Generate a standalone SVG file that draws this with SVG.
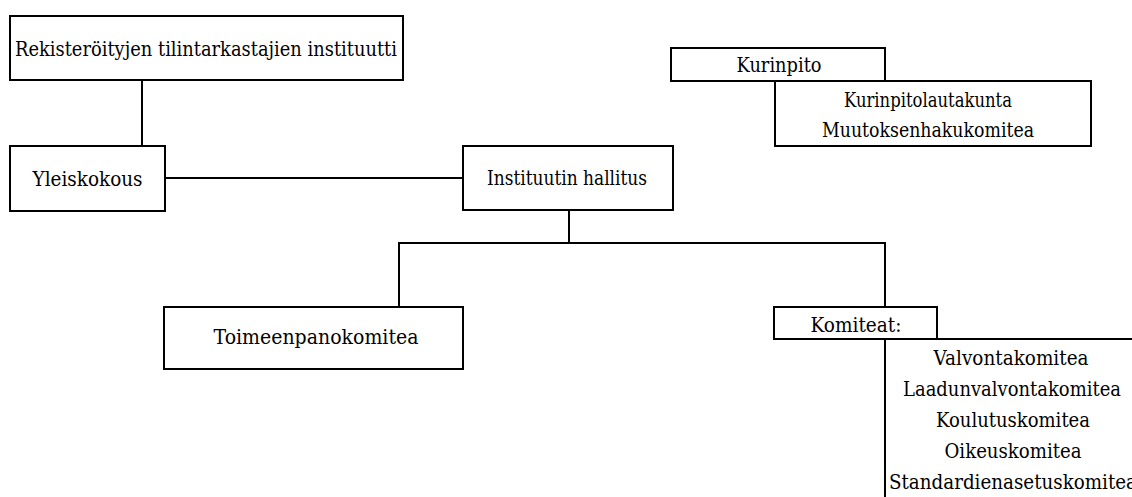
<svg xmlns="http://www.w3.org/2000/svg" width="1132" height="497" viewBox="0 0 1132 497">
<style>
.box{fill:#fff;stroke:#000;stroke-width:2}
.ln{fill:none;stroke:#000;stroke-width:2}
.t{font-family:"DejaVu Serif","Liberation Serif","Noto Serif",serif;font-size:20px;fill:#000}
.c{text-anchor:middle}
</style>
<rect width="1132" height="497" fill="#fff"/>
<g id="connectors">
<path class="ln" d="M142 80V146"/>
<path class="ln" d="M165 178H463"/>
<path class="ln" d="M569 210V243M399 307V243H885V307"/>
</g>
<g id="n-institute">
<rect class="box" x="10" y="16" width="393" height="64"/>
<text class="t c" x="206" y="56" textLength="382" lengthAdjust="spacingAndGlyphs">Rekisteröityjen tilintarkastajien instituutti</text>
</g>
<g id="n-yleiskokous">
<rect class="box" x="10" y="146" width="155" height="65"/>
<text class="t c" x="87.5" y="186" textLength="110" lengthAdjust="spacingAndGlyphs">Yleiskokous</text>
</g>
<g id="n-hallitus">
<rect class="box" x="463" y="146" width="210" height="64"/>
<text class="t c" x="567" y="185" textLength="160" lengthAdjust="spacingAndGlyphs">Instituutin hallitus</text>
</g>
<g id="n-kurinpito">
<rect class="box" x="671" y="48" width="214" height="33"/>
<text class="t c" x="779" y="72" textLength="85" lengthAdjust="spacingAndGlyphs">Kurinpito</text>
</g>
<g id="n-kurinpito-list">
<rect class="box" x="775" y="81" width="316" height="65"/>
<text class="t c" x="928" y="107" textLength="168" lengthAdjust="spacingAndGlyphs">Kurinpitolautakunta</text>
<text class="t c" x="928" y="137" textLength="212" lengthAdjust="spacingAndGlyphs">Muutoksenhakukomitea</text>
</g>
<g id="n-toimeenpano">
<rect class="box" x="164" y="307" width="299" height="62"/>
<text class="t c" x="316" y="344" textLength="205" lengthAdjust="spacingAndGlyphs">Toimeenpanokomitea</text>
</g>
<g id="n-komiteat">
<rect class="box" x="774" y="307" width="163" height="32"/>
<text class="t c" x="856" y="332" textLength="91" lengthAdjust="spacingAndGlyphs">Komiteat:</text>
</g>
<g id="n-komiteat-list">
<rect class="box" x="885" y="339" width="300" height="200"/>
<text class="t c" x="1011" y="365" textLength="155" lengthAdjust="spacingAndGlyphs">Valvontakomitea</text>
<text class="t c" x="1012" y="396" textLength="218" lengthAdjust="spacingAndGlyphs">Laadunvalvontakomitea</text>
<text class="t c" x="1013" y="427" textLength="154" lengthAdjust="spacingAndGlyphs">Koulutuskomitea</text>
<text class="t c" x="1013" y="458" textLength="137" lengthAdjust="spacingAndGlyphs">Oikeuskomitea</text>
<text class="t" x="889" y="489" textLength="248" lengthAdjust="spacingAndGlyphs">Standardienasetuskomitea</text>
</g>
</svg>
